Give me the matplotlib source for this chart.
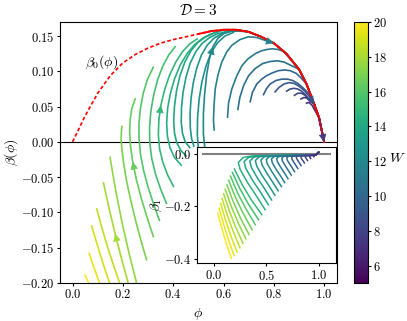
import matplotlib
matplotlib.use("Agg")
import matplotlib.pyplot as plt
from matplotlib.colors import Normalize
from matplotlib.cm import ScalarMappable

plt.rcParams.update({
    "font.family": "serif",
    "font.serif": ["cmr10"],
    "mathtext.fontset": "cm",
    "axes.formatter.use_mathtext": True,
    "font.size": 9,
    "xtick.major.size": 2.4,
    "ytick.major.size": 2.4,
    "xtick.major.pad": 1.5,
    "ytick.major.pad": 1.5,
})

# beta_0(phi) curve (red)
phi0 = [0.0, 0.05, 0.1, 0.15, 0.2, 0.25, 0.3, 0.35, 0.4, 0.45, 0.5, 0.55, 0.6,
        0.65, 0.7, 0.75, 0.8, 0.85, 0.9, 0.93, 0.96, 0.98, 1.0]
beta0 = [0.0, 0.037, 0.069, 0.094, 0.112, 0.124, 0.133, 0.140, 0.145, 0.149,
         0.153, 0.157, 0.159, 0.159, 0.156, 0.149, 0.140, 0.125, 0.103, 0.082,
         0.054, 0.034, 0.0]

# W value of every trajectory (one colour each)
W = [20, 19.5, 19, 18.5, 18, 17.5, 17, 16.5, 16, 15.5, 15, 14.5, 14, 13.5,
     13, 12.5, 12, 11.5, 11, 10.5, 10, 9.5, 9, 8.5, 8, 7.5, 7]

# main panel trajectories
main_phi = [
    [0.070, 0.060, 0.050],
    [0.112, 0.097, 0.081, 0.066],
    [0.152, 0.128, 0.106, 0.089, 0.076],
    [0.192, 0.164, 0.139, 0.116, 0.096],
    [0.225, 0.195, 0.169, 0.145, 0.123],
    [0.258, 0.226, 0.197, 0.171, 0.149],
    [0.294, 0.272, 0.251, 0.232, 0.215, 0.203, 0.196, 0.193, 0.194, 0.196],
    [0.321, 0.297, 0.274, 0.254, 0.239, 0.230, 0.227, 0.229, 0.236, 0.249],
    [0.345, 0.322, 0.300, 0.282, 0.270, 0.264, 0.264, 0.270, 0.281, 0.298, 0.321],
    [0.373, 0.350, 0.330, 0.315, 0.307, 0.306, 0.311, 0.322, 0.338, 0.358, 0.382, 0.408],
    [0.401, 0.378, 0.359, 0.346, 0.341, 0.343, 0.351, 0.366, 0.386, 0.410, 0.437, 0.466, 0.495],
    [0.432, 0.405, 0.387, 0.377, 0.374, 0.378, 0.389, 0.406, 0.428, 0.455, 0.485, 0.517, 0.550],
    [0.452, 0.430, 0.414, 0.405, 0.402, 0.405, 0.413, 0.427, 0.446, 0.470, 0.498, 0.530, 0.562],
    [0.466, 0.448, 0.437, 0.432, 0.433, 0.439, 0.451, 0.468, 0.490, 0.516, 0.545, 0.575, 0.605],
    [0.482, 0.473, 0.468, 0.467, 0.471, 0.480, 0.494, 0.512, 0.535, 0.562, 0.592, 0.622],
    [0.535, 0.512, 0.500, 0.496, 0.497, 0.503, 0.514, 0.530, 0.550, 0.575, 0.605, 0.638],
    [0.565, 0.540, 0.526, 0.520, 0.520, 0.525, 0.533, 0.544, 0.558, 0.578, 0.603, 0.632, 0.665],
    [0.563, 0.560, 0.562, 0.567, 0.578, 0.593, 0.612, 0.633, 0.665, 0.699, 0.732, 0.765],
    [0.616, 0.620, 0.633, 0.652, 0.673, 0.698, 0.726, 0.750, 0.772, 0.795, 0.818, 0.840],
    [0.657, 0.665, 0.680, 0.700, 0.726, 0.755, 0.785, 0.815, 0.842, 0.865],
    [0.706, 0.715, 0.732, 0.752, 0.772, 0.795, 0.818, 0.842, 0.865, 0.890, 0.910],
    [0.759, 0.770, 0.785, 0.808, 0.832, 0.855, 0.875, 0.895, 0.915, 0.935],
    [0.805, 0.820, 0.840, 0.860, 0.880, 0.900, 0.920, 0.940],
    [0.851, 0.865, 0.880, 0.895, 0.910, 0.925, 0.942],
    [0.882, 0.895, 0.910, 0.925, 0.945],
    [0.908, 0.920, 0.933, 0.948],
    [0.930, 0.940, 0.952],
]
main_beta = [
    [-0.205, -0.197, -0.189],
    [-0.205, -0.190, -0.174, -0.158],
    [-0.205, -0.180, -0.155, -0.135, -0.119],
    [-0.205, -0.176, -0.149, -0.121, -0.095],
    [-0.205, -0.166, -0.130, -0.094, -0.058],
    [-0.205, -0.160, -0.115, -0.068, -0.022],
    [-0.167, -0.140, -0.112, -0.084, -0.056, -0.030, -0.010, 0.004, 0.014, 0.022],
    [-0.134, -0.108, -0.081, -0.054, -0.028, -0.005, 0.015, 0.032, 0.048, 0.061],
    [-0.111, -0.088, -0.064, -0.040, -0.017, 0.005, 0.027, 0.048, 0.069, 0.089, 0.106],
    [-0.087, -0.067, -0.046, -0.024, -0.002, 0.020, 0.043, 0.066, 0.088, 0.107, 0.123, 0.135],
    [-0.063, -0.047, -0.029, -0.010, 0.010, 0.031, 0.052, 0.074, 0.095, 0.113, 0.128, 0.139, 0.146],
    [-0.033, -0.022, -0.008, 0.008, 0.027, 0.048, 0.069, 0.090, 0.109, 0.125, 0.138, 0.147, 0.153],
    [-0.020, -0.012, -0.001, 0.013, 0.030, 0.050, 0.072, 0.094, 0.113, 0.129, 0.141, 0.149, 0.154],
    [-0.008, 0.000, 0.012, 0.028, 0.048, 0.070, 0.092, 0.112, 0.128, 0.140, 0.148, 0.153, 0.156],
    [-0.006, 0.005, 0.020, 0.040, 0.062, 0.084, 0.105, 0.123, 0.137, 0.147, 0.153, 0.156],
    [-0.045, -0.028, -0.010, 0.010, 0.035, 0.060, 0.085, 0.107, 0.126, 0.140, 0.150, 0.155],
    [-0.050, -0.030, -0.010, 0.012, 0.040, 0.068, 0.095, 0.118, 0.135, 0.147, 0.154, 0.157, 0.157],
    [0.017, 0.030, 0.050, 0.075, 0.095, 0.113, 0.127, 0.137, 0.145, 0.149, 0.148, 0.144],
    [0.035, 0.055, 0.075, 0.093, 0.108, 0.118, 0.125, 0.129, 0.131, 0.132, 0.131, 0.128],
    [0.046, 0.063, 0.080, 0.094, 0.104, 0.111, 0.114, 0.115, 0.113, 0.109],
    [0.057, 0.070, 0.082, 0.089, 0.094, 0.098, 0.101, 0.102, 0.101, 0.097, 0.090],
    [0.067, 0.075, 0.082, 0.087, 0.089, 0.089, 0.087, 0.083, 0.077, 0.070],
    [0.071, 0.077, 0.082, 0.084, 0.083, 0.079, 0.073, 0.065],
    [0.072, 0.075, 0.076, 0.075, 0.072, 0.067, 0.059],
    [0.066, 0.069, 0.069, 0.066, 0.058],
    [0.061, 0.063, 0.062, 0.057],
    [0.055, 0.056, 0.052],
]
# trajectories from this index on run into the red curve and follow it to (1, 0)
first_merging = 11

# arrow heads: (trajectory, point index of the tip)
arrows = [(4, 2), (7, 4), (10, 6), (16, 8), (17, 12), (22, 8), (25, 6)]

# inset trajectories
inset_phi = [
    [0.168, 0.120, 0.078, 0.040],
    [0.195, 0.141, 0.094, 0.052],
    [0.222, 0.163, 0.111, 0.066],
    [0.250, 0.185, 0.129, 0.080],
    [0.278, 0.208, 0.147, 0.095],
    [0.306, 0.231, 0.165, 0.110],
    [0.335, 0.254, 0.185, 0.126],
    [0.365, 0.279, 0.205, 0.143],
    [0.395, 0.304, 0.225, 0.160],
    [0.426, 0.329, 0.247, 0.178],
    [0.457, 0.355, 0.269, 0.197],
    [0.488, 0.408, 0.322, 0.253, 0.234, 0.280, 0.368, 0.97, 0.995],
    [0.519, 0.446, 0.369, 0.306, 0.289, 0.330, 0.410, 0.97, 0.995],
    [0.550, 0.485, 0.415, 0.358, 0.343, 0.380, 0.452, 0.97, 0.995],
    [0.581, 0.522, 0.460, 0.409, 0.396, 0.429, 0.493, 0.97, 0.995],
    [0.612, 0.560, 0.505, 0.460, 0.448, 0.477, 0.534, 0.97, 0.995],
    [0.643, 0.597, 0.549, 0.509, 0.499, 0.524, 0.575, 0.97, 0.995],
    [0.674, 0.634, 0.592, 0.557, 0.548, 0.570, 0.614, 0.97, 0.995],
    [0.705, 0.671, 0.635, 0.606, 0.598, 0.617, 0.654, 0.97, 0.995],
    [0.736, 0.707, 0.677, 0.652, 0.646, 0.662, 0.693, 0.97, 0.995],
    [0.767, 0.744, 0.719, 0.698, 0.693, 0.706, 0.732, 0.97, 0.995],
    [0.798, 0.779, 0.760, 0.743, 0.739, 0.750, 0.770, 0.97, 0.995],
    [0.829, 0.815, 0.799, 0.787, 0.783, 0.792, 0.807, 0.97, 0.995],
    [0.860, 0.850, 0.838, 0.829, 0.827, 0.833, 0.844, 0.97, 0.995],
    [0.890, 0.883, 0.876, 0.870, 0.868, 0.872, 0.880, 0.97, 0.995],
    [0.920, 0.916, 0.912, 0.909, 0.908, 0.910, 0.914, 0.97, 0.995],
    [0.950, 0.946, 0.945, 0.97, 0.995],
]
inset_beta = [
    [-0.398, -0.341, -0.283, -0.226],
    [-0.388, -0.328, -0.267, -0.207],
    [-0.374, -0.312, -0.250, -0.188],
    [-0.358, -0.295, -0.233, -0.170],
    [-0.341, -0.278, -0.215, -0.152],
    [-0.324, -0.261, -0.198, -0.135],
    [-0.307, -0.244, -0.181, -0.118],
    [-0.289, -0.226, -0.164, -0.101],
    [-0.270, -0.208, -0.147, -0.085],
    [-0.251, -0.191, -0.131, -0.071],
    [-0.232, -0.174, -0.116, -0.058],
    [-0.213, -0.162, -0.110, -0.061, -0.033, -0.014, -0.008, -0.004, 0.006],
    [-0.194, -0.147, -0.101, -0.056, -0.030, -0.014, -0.008, -0.004, 0.006],
    [-0.176, -0.134, -0.092, -0.052, -0.028, -0.013, -0.008, -0.004, 0.006],
    [-0.158, -0.120, -0.083, -0.047, -0.026, -0.012, -0.008, -0.004, 0.006],
    [-0.141, -0.108, -0.074, -0.043, -0.024, -0.012, -0.008, -0.004, 0.006],
    [-0.125, -0.096, -0.066, -0.038, -0.022, -0.012, -0.008, -0.004, 0.006],
    [-0.110, -0.084, -0.059, -0.035, -0.020, -0.011, -0.008, -0.004, 0.006],
    [-0.095, -0.073, -0.051, -0.031, -0.018, -0.011, -0.008, -0.004, 0.006],
    [-0.081, -0.063, -0.044, -0.027, -0.017, -0.010, -0.008, -0.004, 0.006],
    [-0.068, -0.053, -0.038, -0.024, -0.015, -0.010, -0.008, -0.004, 0.006],
    [-0.056, -0.044, -0.032, -0.020, -0.014, -0.009, -0.008, -0.004, 0.006],
    [-0.045, -0.036, -0.026, -0.018, -0.012, -0.009, -0.008, -0.004, 0.006],
    [-0.035, -0.028, -0.022, -0.015, -0.011, -0.009, -0.008, -0.004, 0.006],
    [-0.026, -0.021, -0.017, -0.013, -0.010, -0.009, -0.008, -0.004, 0.006],
    [-0.018, -0.016, -0.013, -0.011, -0.009, -0.008, -0.008, -0.004, 0.006],
    [-0.011, -0.009, -0.008, -0.004, 0.006],
]

cmap = plt.get_cmap("viridis")
norm = Normalize(vmin=5, vmax=20)

fig = plt.figure(figsize=(4.07, 3.21), dpi=100)
ax = fig.add_axes([0.1474, 0.1184, 0.6799, 0.8131])
cax = fig.add_axes([0.8705, 0.1184, 0.0329, 0.8131])
axin = fig.add_axes([0.4833, 0.1798, 0.3423, 0.3632])

ax.axhline(0, color="k", lw=0.8, zorder=1)

paths = []
for k in range(len(W)):
    p = list(main_phi[k])
    b = list(main_beta[k])
    if k >= first_merging:
        # continue along beta_0 down to (1, 0)
        for pp, bb in zip(phi0, beta0):
            if pp > p[-1] + 0.01:
                p.append(pp)
                b.append(bb)
    paths.append((p, b))
    ax.plot(p, b, color=cmap(norm(W[k])), lw=1.2, zorder=2)

ax.plot(phi0, beta0, color="red", ls="--", dashes=(2.2, 1.4), lw=1.2, zorder=3)
red_p = [pp for pp in phi0 if pp >= 0.5]
red_b = [bb for pp, bb in zip(phi0, beta0) if pp >= 0.5]
ax.plot(red_p, red_b, color="red", lw=1.4, zorder=3)

for k, i in arrows:
    p, b = paths[k]
    ax.annotate("", xy=(p[i], b[i]), xytext=(p[i - 1], b[i - 1]),
                arrowprops=dict(arrowstyle="-|>", color=cmap(norm(W[k])),
                                lw=0.5, mutation_scale=12, shrinkA=0, shrinkB=0),
                zorder=4)

ax.text(0.05, 0.113, r"$\beta_0(\phi)$", fontsize=10, va="center")
ax.set_xlim(-0.05, 1.05)
ax.set_ylim(-0.2, 0.17)
ax.set_xticks([0.0, 0.2, 0.4, 0.6, 0.8, 1.0])
ax.set_yticks([-0.2, -0.15, -0.1, -0.05, 0.0, 0.05, 0.1, 0.15])
ax.set_xlabel(r"$\phi$", fontsize=10, labelpad=3)
ax.set_ylabel(r"$\beta(\phi)$", fontsize=10, labelpad=1)
ax.set_title(r"$\mathcal{D} = 3$", fontsize=11, pad=5)

# inset
axin.plot([-0.1, 1.1], [0, 0], color="gray", lw=1.5, zorder=1)
for k in range(len(W)):
    axin.plot(inset_phi[k], inset_beta[k], color=cmap(norm(W[k])), lw=1.1, zorder=2)
axin.set_xlim(-0.16, 1.16)
axin.set_ylim(-0.417, 0.027)
axin.set_xticks([0.0, 0.5, 1.0])
axin.set_yticks([-0.4, -0.2, 0.0])
axin.set_ylabel(r"$\beta_1$", fontsize=10, labelpad=0)

cb = fig.colorbar(ScalarMappable(norm=norm, cmap=cmap), cax=cax,
                  ticks=[6, 8, 10, 12, 14, 16, 18, 20])
cb.set_label(r"$W$", rotation=0, fontsize=10, labelpad=7)

fig.savefig("out.png", dpi=100)
